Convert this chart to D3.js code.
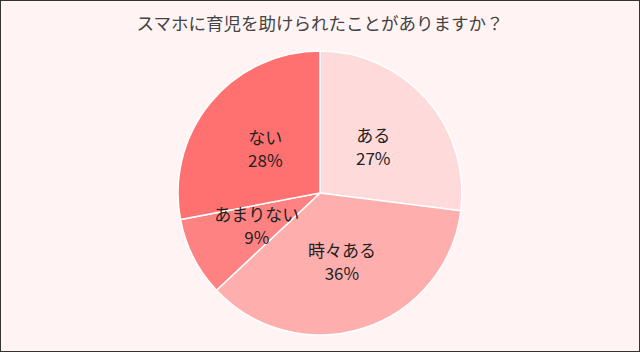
<!DOCTYPE html>
<html>
<head>
<meta charset="utf-8">
<script src="https://cdn.jsdelivr.net/npm/d3@7"></script>
<style>
  body { margin: 0; background: #fff; }
  svg { display: block; font-family: "Noto Sans CJK JP", sans-serif; }
</style>
</head>
<body>
<div id="viz"></div>
<script>
const width = 640;
const height = 352;
const title = 'スマホに育児を助けられたことがありますか？';

const categories = ['ある', '時々ある', 'あまりない', 'ない'];
const values = [27, 36, 9, 28];
const colors = ['#ffdada', '#ffaeae', '#ff8282', '#ff7070'];

const data = categories.map((c, i) => ({name: c, value: values[i], color: colors[i]}));

const svg = d3.select('#viz')
    .append('svg')
        .attr('width', width)
        .attr('height', height);

// background + frame
svg.append('rect')
    .attr('x', 0.5)
    .attr('y', 0.5)
    .attr('width', width - 1)
    .attr('height', height - 1)
    .attr('fill', '#fff3f3')
    .attr('stroke', '#333');

svg.append('text')
    .attr('x', width / 2)
    .attr('y', 30)
    .attr('text-anchor', 'middle')
    .attr('fill', '#444')
    .style('font-size', '17.5px')
    .text(title);

const radius = 142;
const pie = d3.pie().sort(null).value(d => d.value);
const arc = d3.arc().innerRadius(0).outerRadius(radius);

const g = svg.append('g')
    .attr('transform', `translate(320,193)`);

const arcs = pie(data);

g.selectAll('path')
    .data(arcs)
    .join('path')
        .attr('d', arc)
        .attr('fill', d => d.data.color)
        .attr('stroke', '#fff')
        .attr('stroke-width', 1.5);

// labels: name on top, percentage below
const labels = g.selectAll('.label')
    .data(arcs)
    .join('g')
        .attr('class', 'label')
        .attr('transform', d => `translate(${arc.centroid(d)})`)
        .attr('text-anchor', 'middle')
        .attr('fill', '#222')
        .style('font-size', '17px');
labels.append('text')
    .attr('y', -4)
    .text(d => d.data.name);
labels.append('text')
    .attr('y', 19)
    .text(d => d.data.value + '%');
</script>
</body>
</html>
